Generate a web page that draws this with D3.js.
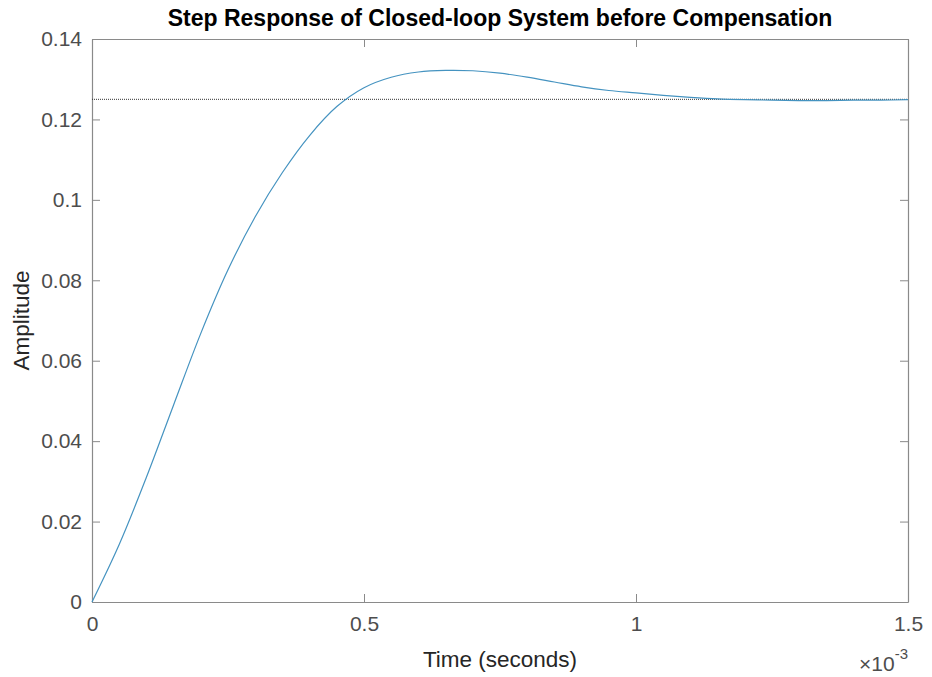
<!DOCTYPE html>
<html>
<head>
<meta charset="utf-8">
<script src="https://cdn.jsdelivr.net/npm/d3@7"></script>
<style>
  body { margin: 0; background: #fff; }
  svg { display: block; font-family: "Liberation Sans", Arial, sans-serif; }
</style>
</head>
<body>
<svg id="chart" width="932" height="677"></svg>
<script>
// time in units of 1e-3 seconds
const timeMs = [0, 0.05, 0.1, 0.15, 0.2, 0.25, 0.3, 0.35, 0.4, 0.45, 0.5, 0.55, 0.6, 0.65, 0.7, 0.75,
  0.8, 0.85, 0.9, 0.95, 1.0, 1.05, 1.1, 1.15, 1.2, 1.25, 1.3, 1.35, 1.4, 1.45, 1.5];
const amplitude = [0, 0.0143, 0.0310, 0.0490, 0.0668, 0.0826, 0.0958, 0.1068, 0.1160, 0.1232, 0.1279,
  0.1305, 0.1318, 0.1322, 0.1321, 0.1315, 0.1305, 0.1293, 0.1281, 0.1272, 0.1266, 0.1260, 0.1255,
  0.1251, 0.1249, 0.1248, 0.1247, 0.1247, 0.1248, 0.1248, 0.1249];
const steadyState = 0.125;

const xTicks = [0, 0.5, 1, 1.5];
const xTickLabels = ["0", "0.5", "1", "1.5"];
const yTicks = [0, 0.02, 0.04, 0.06, 0.08, 0.1, 0.12, 0.14];
const yTickLabels = ["0", "0.02", "0.04", "0.06", "0.08", "0.1", "0.12", "0.14"];

const titleText = "Step Response of Closed-loop System before Compensation";
const xLabel = "Time (seconds)";
const yLabel = "Amplitude";

const margin = {top: 39, right: 24, bottom: 75, left: 92};
const width = 932 - margin.left - margin.right;
const height = 677 - margin.top - margin.bottom;

const axisColor = "#8a8a8a";
const textColor = "#4d4d4d";

const svg = d3.select("#chart");
const g = svg.append("g").attr("transform", `translate(${margin.left},${margin.top})`);

const x = d3.scaleLinear().domain([0, 1.5]).range([0, width]);
const y = d3.scaleLinear().domain([0, 0.14]).range([height, 0]);

// axes (ticks drawn inwards, MATLAB style)
const fmtX = d => xTickLabels[xTicks.indexOf(d)];
const fmtY = d => yTickLabels[yTicks.indexOf(d)];

function styleAxis(sel) {
  sel.selectAll("path").attr("stroke", axisColor);
  sel.selectAll("line").attr("stroke", axisColor);
  sel.selectAll("text").attr("fill", textColor).style("font-size", "21px");
}

g.append("g")
  .attr("transform", `translate(0,${height})`)
  .call(d3.axisBottom(x).tickValues(xTicks).tickFormat(fmtX).tickSizeInner(-8).tickSizeOuter(0).tickPadding(14))
  .call(styleAxis);

g.append("g")
  .call(d3.axisTop(x).tickValues(xTicks).tickFormat("").tickSizeInner(-8).tickSizeOuter(0))
  .call(styleAxis);

g.append("g")
  .call(d3.axisLeft(y).tickValues(yTicks).tickFormat(fmtY).tickSizeInner(-8).tickSizeOuter(0).tickPadding(10))
  .call(styleAxis);

g.append("g")
  .attr("transform", `translate(${width},0)`)
  .call(d3.axisRight(y).tickValues(yTicks).tickFormat("").tickSizeInner(-8).tickSizeOuter(0))
  .call(styleAxis);

g.selectAll(".domain").attr("stroke-width", 1.2);

// steady-state dotted line
g.append("line")
  .attr("x1", x(0)).attr("x2", x(1.5))
  .attr("y1", y(steadyState)).attr("y2", y(steadyState))
  .attr("stroke", "#333")
  .attr("stroke-width", 1)
  .attr("stroke-dasharray", "1,1");

// response curve
const pts = timeMs.map((t, i) => [t, amplitude[i]]);
const line = d3.line()
  .x(d => x(d[0]))
  .y(d => y(d[1]))
  .curve(d3.curveCatmullRom);

g.append("path")
  .datum(pts)
  .attr("fill", "none")
  .attr("stroke", "#4593c0")
  .attr("stroke-width", 1.2)
  .attr("d", line);

// title and labels
svg.append("text")
  .attr("x", margin.left + width / 2).attr("y", 26)
  .attr("text-anchor", "middle")
  .attr("font-weight", "bold")
  .attr("font-size", 23)
  .attr("fill", "#000")
  .text(titleText);

svg.append("text")
  .attr("x", margin.left + width / 2).attr("y", 667)
  .attr("text-anchor", "middle")
  .attr("font-size", 22.5)
  .attr("fill", "#262626")
  .text(xLabel);

svg.append("text")
  .attr("transform", `translate(29,${margin.top + height / 2}) rotate(-90)`)
  .attr("text-anchor", "middle")
  .attr("font-size", 22.5)
  .attr("fill", "#262626")
  .text(yLabel);

// exponent label
const expo = svg.append("text")
  .attr("x", 908).attr("y", 671)
  .attr("text-anchor", "end")
  .attr("font-size", 21)
  .attr("fill", textColor);
expo.append("tspan").text("\u00d710");
expo.append("tspan").attr("dy", -12).attr("font-size", 15).text("-3");
</script>
</body>
</html>
